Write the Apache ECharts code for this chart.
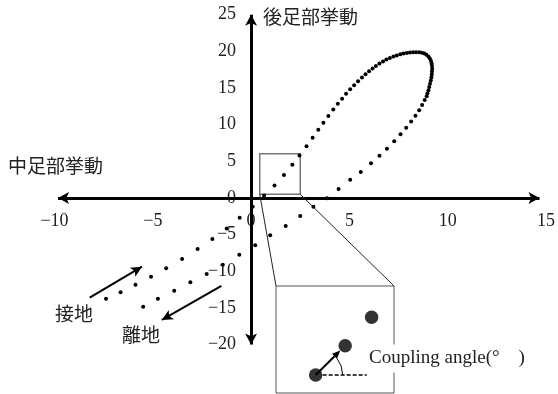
<!DOCTYPE html>
<html>
<head>
<meta charset="utf-8">
<script src="https://cdn.jsdelivr.net/npm/echarts@6/dist/echarts.min.js"></script>
<style>
html,body{margin:0;padding:0;background:#fff;}
#c{width:558px;height:394px;}
</style>
</head>
<body>
<div id="c"></div>
<script>
// ---- axis ticks ----
const xTicks = [-10, -5, 0, 5, 10, 15];
const yTicks = [-20, -15, -10, -5, 0, 5, 10, 15, 20, 25];

// ---- labels ----
const xName = '中足部挙動';
const yName = '後足部挙動';
const touchdownLabel = '接地';
const toeoffLabel = '離地';
const couplingLabel = 'Coupling angle(°\u3000)';

// ---- data: midfoot (x) vs rearfoot (y), in stance order ----
const midfoot = [
  -7.38, -6.64, -5.88, -5.09, -4.32, -3.51, -2.72, -1.97, -1.24, -0.58,
   0.08,  0.66,  1.19,  1.67,  2.10,  2.46,  2.82,  3.13,  3.42,  3.68,
   3.93,  4.18,  4.41,  4.63,  4.83,  5.04,  5.24,  5.44,  5.64,  5.82,
   6.00,  6.18,  6.35,  6.53,  6.71,  6.88,  7.06,  7.24,  7.41,  7.59,
   7.75,  7.92,  8.08,  8.24,  8.39,  8.55,  8.69,  8.81,  8.92,  9.02,
   9.09,  9.15,  9.18,  9.20,  9.21,  9.20,  9.19,  9.17,  9.14,  9.10,
   9.06,  9.02,  8.97,  8.93,  8.83,  8.70,  8.55,  8.36,  8.14,  7.89,
   7.60,  7.28,  6.91,  6.53,  6.10,  5.58,  5.04,  4.45,  3.86,  3.17,
   2.50,  1.76,  0.97,  0.21, -0.60, -1.44, -2.26, -3.09, -3.91, -4.74,
  -5.49
];
const rearfoot = [
  -13.74, -12.86, -11.83, -10.74, -9.59, -8.32, -6.96, -5.59, -4.16, -2.69,
   -1.19,   0.34,   1.71,   3.14,  4.53,  5.80,  7.05,  8.21,  9.30, 10.26,
   11.19,  12.07,  12.85,  13.55, 14.22, 14.83, 15.39, 15.92, 16.44, 16.89,
   17.30,  17.67,  18.01,  18.34, 18.62, 18.88, 19.10, 19.29, 19.45, 19.59,
   19.70,  19.78,  19.84,  19.88, 19.89, 19.88, 19.82, 19.70, 19.52, 19.29,
   19.02,  18.70,  18.36,  18.01, 17.64, 17.26, 16.86, 16.45, 16.03, 15.59,
   15.14,  14.69,  14.28,  13.87, 13.37, 12.69, 11.96, 11.23, 10.44,  9.59,
    8.69,   7.74,   6.73,   5.77,  4.73,  3.55,  2.50,  1.23, -0.04, -1.19,
   -2.46,  -3.82,  -5.09,  -6.45, -7.74, -9.10, -10.37, -11.50, -12.65, -13.74,
  -14.83
];

// magnified region (data units): [x0,y0] .. [x1,y1]
const zoomBox = [[0.44, 0.5], [2.5, 6.04]];
// inset axis ranges
const insetX = [0.545, 2.464];
const insetY = [0.832, 6.05];

const points = midfoot.map((x, i) => [x, rearfoot[i]]);
const insetPts = points.filter(p => p[0] >= zoomBox[0][0] && p[0] < zoomBox[1][0] - 0.1 &&
                                     p[1] >= zoomBox[0][1] && p[1] <= zoomBox[1][1]);

const fmt = v => (v < 0 ? '\u2212' + (-v) : String(v));
const numFont = 'Liberation Serif';
const cjkFont = '"Noto Sans CJK JP"';
const ink = '#000';

const chart = echarts.init(document.getElementById('c'), null, {renderer: 'canvas'});

const mainGrid = {left: 54.5, right: 8.5, top: 14.7, bottom: 49.4};

const option = {
  animation: false,
  backgroundColor: '#fff',
  grid: [
    mainGrid,
    {left: 276, top: 286, width: 118, height: 107, show: true,
     borderColor: '#555', borderWidth: 1, backgroundColor: '#fff'}
  ],
  xAxis: [
    {type: 'value', gridIndex: 0, position: 'bottom', offset: 0,
     min: xTicks[0], max: xTicks[xTicks.length - 1], interval: 5,
     splitLine: {show: false}, axisTick: {show: false},
     axisLine: {show: false, onZero: false},
     axisLabel: {margin: 14, color: '#222', fontFamily: numFont, fontSize: 18, formatter: fmt,
                 showMinLabel: true, showMaxLabel: true}},
    {type: 'value', gridIndex: 1, min: insetX[0], max: insetX[1], show: false,
     splitLine: {show: false}}
  ],
  yAxis: [
    {type: 'value', gridIndex: 0, position: 'left', offset: 0,
     min: yTicks[0], max: yTicks[yTicks.length - 1], interval: 5,
     splitLine: {show: false}, axisTick: {show: false},
     axisLine: {show: false, onZero: false},
     axisLabel: {margin: 15, color: '#222', fontFamily: numFont, fontSize: 18, formatter: fmt,
                 showMinLabel: true, showMaxLabel: true}},
    {type: 'value', gridIndex: 1, min: insetY[0], max: insetY[1], show: false,
     splitLine: {show: false}}
  ],
  series: [
    {
      type: 'scatter', name: 'trajectory', xAxisIndex: 0, yAxisIndex: 0,
      data: points, symbolSize: 4, itemStyle: {color: ink, opacity: 1}, z: 4, silent: true,
      markLine: {
        silent: true, animation: false,
        symbol: ['arrow', 'arrow'], symbolSize: [9, 11],
        label: {show: false},
        lineStyle: {color: ink, width: 3, type: 'solid'},
        data: [
          [{coord: [-9.82, 0]}, {coord: [14.67, 0]}],
          [{coord: [0, -20]}, {coord: [0, 25]}]
        ]
      }
    },
    {
      type: 'scatter', name: 'annotations', xAxisIndex: 0, yAxisIndex: 0, data: [], silent: true,
      markLine: {
        silent: true, animation: false,
        symbol: ['none', 'arrow'], symbolSize: [8, 11],
        label: {show: false},
        lineStyle: {color: ink, width: 2, type: 'solid'},
        data: [
          [{coord: [-8.21, -13.6]}, {coord: [-5.55, -9.37]}],
          [{coord: [-1.51, -12.0]}, {coord: [-4.54, -16.64]}]
        ]
      },
      markArea: {
        silent: true,
        itemStyle: {color: 'rgba(0,0,0,0)', borderColor: '#777', borderWidth: 1.5},
        label: {show: false},
        data: [[{coord: [zoomBox[0][0], zoomBox[1][1]]}, {coord: [zoomBox[1][0], zoomBox[0][1]]}]]
      }
    },
    {
      type: 'scatter', name: 'inset', xAxisIndex: 1, yAxisIndex: 1,
      data: insetPts, symbolSize: 13.5, itemStyle: {color: ink}, z: 4, silent: true
    }
  ]
};
chart.setOption(option);

// move the tick labels so they sit along the axes that cross at the origin
const origin = chart.convertToPixel({gridIndex: 0}, [0, 0]);
const gridBottomPx = chart.convertToPixel({gridIndex: 0}, [0, yTicks[0]])[1];
const gridLeftPx = chart.convertToPixel({gridIndex: 0}, [xTicks[0], 0])[0];
chart.setOption({
  xAxis: [{offset: -(gridBottomPx - origin[1])}, {}],
  yAxis: [{offset: -(origin[0] - gridLeftPx)}, {}]
});

// ---- decorations computed from the scales ----
const bl = chart.convertToPixel({gridIndex: 0}, [zoomBox[0][0], zoomBox[0][1]]);
const br = chart.convertToPixel({gridIndex: 0}, [zoomBox[1][0], zoomBox[0][1]]);
const itl = chart.convertToPixel({gridIndex: 1}, [insetX[0], insetY[1]]);
const itr = chart.convertToPixel({gridIndex: 1}, [insetX[1], insetY[1]]);
const p1 = chart.convertToPixel({gridIndex: 1}, insetPts[0]);
const p2 = chart.convertToPixel({gridIndex: 1}, insetPts[1]);

const dx = p2[0] - p1[0], dy = p2[1] - p1[1];
const len = Math.sqrt(dx * dx + dy * dy);
const ux = dx / len, uy = dy / len;
const tip = [p1[0] + ux * (len - 7), p1[1] + uy * (len - 7)];
const headLen = 8, headW = 3.5;
const base = [tip[0] - ux * headLen, tip[1] - uy * headLen];
const head = [tip, [base[0] - uy * headW, base[1] + ux * headW], [base[0] + uy * headW, base[1] - ux * headW]];

function txt(text, x, y, font, extra) {
  return {
    type: 'text', x: x, y: y, z: 200, silent: true,
    style: Object.assign({
      text: text, font: font, fill: '#222',
      align: 'left', verticalAlign: 'middle',
      textAlign: 'left', textVerticalAlign: 'middle'
    }, extra || {})
  };
}

chart.setOption({
  graphic: [
    {type: 'line', z: 50, silent: true, shape: {x1: bl[0], y1: bl[1], x2: itl[0], y2: itl[1]},
     style: {stroke: '#222', lineWidth: 1}},
    {type: 'line', z: 50, silent: true, shape: {x1: br[0], y1: br[1], x2: itr[0], y2: itr[1]},
     style: {stroke: '#222', lineWidth: 1}},
    {type: 'line', z: 60, silent: true, shape: {x1: p1[0], y1: p1[1], x2: base[0], y2: base[1]},
     style: {stroke: ink, lineWidth: 2}},
    {type: 'polygon', z: 60, silent: true, shape: {points: head}, style: {fill: ink}},
    {type: 'line', z: 60, silent: true, shape: {x1: p1[0] + 7, y1: p1[1], x2: p1[0] + 51, y2: p1[1]},
     style: {stroke: ink, lineWidth: 1.3, lineDash: [4, 2]}},
    {type: 'arc', z: 60, silent: true,
     shape: {cx: p1[0], cy: p1[1], r: 27, startAngle: -38 * Math.PI / 180, endAngle: 0, clockwise: true},
     style: {stroke: ink, lineWidth: 1, fill: null}},
    txt(yName, 263, 17, '19px ' + cjkFont),
    txt(xName, 8, 166, '19px ' + cjkFont),
    txt(touchdownLabel, 55, 313.5, '19px ' + cjkFont),
    txt(toeoffLabel, 122, 335, '19px ' + cjkFont),
    txt(couplingLabel, 366, 358.5, '19px "Liberation Serif", ' + cjkFont,
        {backgroundColor: '#fff', padding: [5, 3, 4, 3]})
  ]
});
</script>
</body>
</html>
